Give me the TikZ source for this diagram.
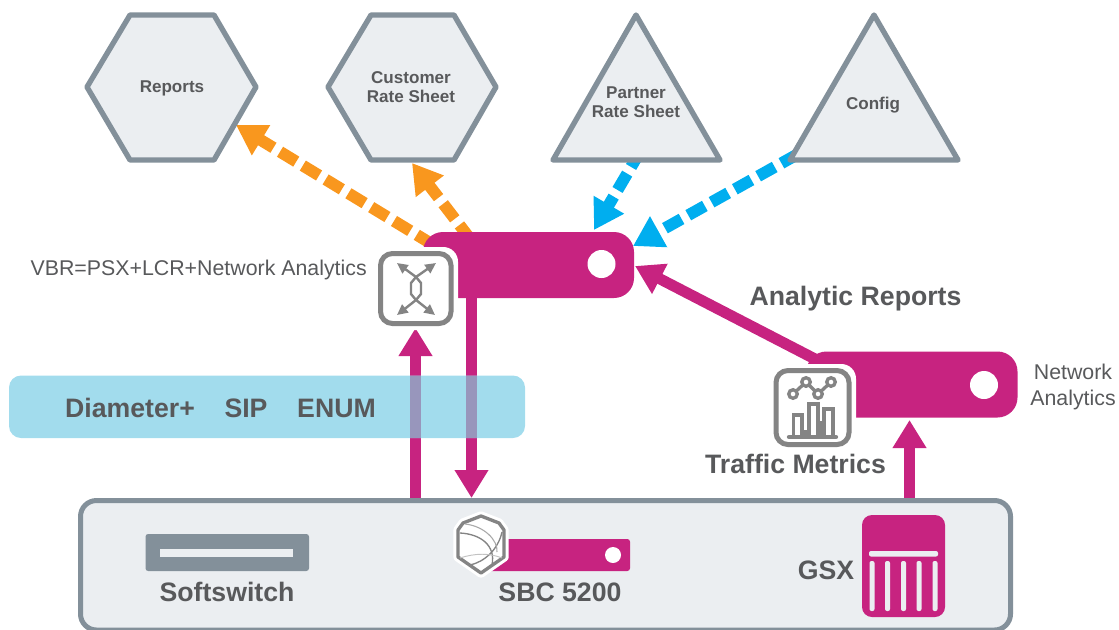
\documentclass[tikz,border=0pt]{standalone}
\usepackage{fontspec}
\setmainfont{Liberation Sans}
\usetikzlibrary{arrows.meta}
\definecolor{mag}{HTML}{C72380}
\definecolor{slate}{HTML}{83909A}
\definecolor{pale}{HTML}{EBEEF1}
\definecolor{txt}{HTML}{58595B}
\definecolor{org}{HTML}{F9971E}
\definecolor{sky}{HTML}{00AEEF}
\definecolor{band}{HTML}{A2DCED}
\definecolor{mixcol}{HTML}{9896BC}
\definecolor{icon}{HTML}{848484}
\tikzset{
  shapeit/.style={draw=slate,fill=pale,line width=4pt,line join=round},
  lab/.style={inner sep=0pt,text=txt,font=\bfseries\fontsize{12.8}{14.2}\selectfont,align=center},
  bigl/.style={inner sep=0pt,anchor=base,text=txt,font=\bfseries\fontsize{20}{22}\selectfont},
  thin lab/.style={inner sep=0pt,text=txt,font=\fontsize{16}{20}\selectfont,align=center},
  heavy/.style={draw=mag,line width=8.25pt,-{Triangle[length=21pt,width=24pt]}},
  dashorg/.style={draw=org,line width=8.8pt,dash pattern=on 14.25pt off 5.75pt,-{Triangle[length=22pt,width=25pt]}},
  dashsky/.style={draw=sky,line width=8.8pt,dash pattern=on 14.25pt off 5.75pt,-{Triangle[length=22pt,width=25pt]}},
  iconbox/.style={draw=icon,fill=white,line width=3.75pt,rounded corners=9pt},
  halo/.style={fill=white,rounded corners=11pt},
  ic/.style={draw=icon,line width=1.8pt,line join=round},
  chartl/.style={draw=icon,line width=2.5pt},
  ictip/.style={ic,{Triangle[length=8pt,width=7.5pt]}-},
  slot/.style={fill=pale,rounded corners=1.5pt},
}
\begin{document}
\begin{tikzpicture}[x=0.75pt,y=-0.75pt]
\useasboundingbox (0,0) rectangle (1119,629);
% connector end points
\coordinate (vbrA) at (433,244.7);
\coordinate (vbrB) at (471,240);
\coordinate (reportsTip) at (236,125);
\coordinate (rateTip) at (412,163);
\coordinate (partnerOut) at (640.7,150.6);
\coordinate (configOut) at (798,154);
\coordinate (vbrTop) at (594,230);
\coordinate (vbrRight) at (633,246);
\coordinate (vbrRightLow) at (635,266);
\coordinate (naOut) at (815,359);
\coordinate (upFrom) at (415.5,500);
\coordinate (upTo) at (415.5,328);
\coordinate (downFrom) at (471.5,296);
\coordinate (downTo) at (471.5,498);
\coordinate (gsxFrom) at (909.5,500);
\coordinate (gsxTo) at (909.5,420);
% connectors
\draw[dashorg] (vbrA) -- (reportsTip);
\draw[dashorg] (vbrB) -- (rateTip);
\draw[dashsky] (partnerOut) -- (vbrTop);
\draw[dashsky] (configOut) -- (vbrRight);
\draw[heavy] (naOut) -- (vbrRightLow);
\draw[heavy] (upFrom) -- (upTo);
\draw[heavy] (downFrom) -- (downTo);
\draw[heavy] (gsxFrom) -- (gsxTo);
% band
\fill[band,rounded corners=9pt] (9,375.5) rectangle (525,438) ;
\fill[mixcol] (410,375.5) rectangle (421,438);
\fill[mixcol] (466,375.5) rectangle (477,438);
\node[bigl] (diam) at (130,417) {Diameter+};
\node[bigl] (sip) at (246,417) {SIP};
\node[bigl] (enum) at (336.5,417) {ENUM};
% top shapes
\draw[shapeit] (87,87) -- (130,15) -- (214,15) -- (256,87) -- (214,160) -- (130,160) -- cycle;
\node[lab] (reports) at (172,88) {Reports};
\draw[shapeit] (328,87) -- (371,15) -- (454,15) -- (496,87) -- (454,160) -- (371,160) -- cycle;
\node[lab] (customer) at (411,87) {Customer\\Rate Sheet};
\draw[shapeit] (636,15) -- (553,160) -- (720,160) -- cycle;
\node[lab] (partner) at (636,102) {Partner\\Rate Sheet};
\draw[shapeit] (874,15) -- (790,160) -- (958,160) -- cycle;
\node[lab] (config) at (873,105) {Config};
% VBR
\node[draw=none,fill=mag,rounded corners=15pt,minimum width=158.25pt,minimum height=49.5pt,inner sep=0pt] (vbr) at (528.5,265) {};
\fill[white] (vbr.center) ++(73,-1) circle (10.5pt);
\fill[halo] (374,247) rectangle (458,330);
\draw[iconbox] (380.5,253.5) rectangle (451,323.5);
\draw[ictip] (397,263) -- (416,277) -- (421,283) -- (421,294) -- (416,300);
\draw[ictip] (436,263) -- (416,277) -- (411,283) -- (411,294) -- (416,300);
\draw[ictip] (397,315) -- (416,300);
\draw[ictip] (435,315) -- (416,300);
\node[thin lab,anchor=base east] (vbrtxt) at (367,275) {VBR=PSX+LCR+Network Analytics};
% Network analytics
\node[draw=none,fill=mag,rounded corners=15pt,minimum width=158.25pt,minimum height=49.5pt,inner sep=0pt] (na) at (912,384.5) {};
\fill[white] (na.center) ++(72,0.5) circle (10.5pt);
\fill[halo] (769,364) rectangle (856,451);
\draw[iconbox] (776,370.5) rectangle (849,444.5);
\draw[chartl] (793,394) -- (806,382) -- (818,394) -- (831,382);
\foreach \p in {(793,394),(806,382),(818,394),(831,382)} \draw[chartl,fill=white] \p circle (3.2pt);
\draw[chartl] (793.5,436) |- (802,415) -- (802,436);
\draw[chartl] (809,436) |- (818,404) -- (818,436);
\draw[chartl] (824,436) |- (833,409) -- (833,436);
\draw[chartl] (805.5,430) -- (805.5,436);
\draw[chartl] (820.5,421) -- (820.5,436);
\draw[chartl,line width=3.2pt,line cap=round] (789,437) -- (836,437);
\node[thin lab] (natxt) at (1073,387) {Network\\Analytics};
\node[bigl] (anrep) at (855.5,305) {Analytic Reports};
\node[bigl] (traffic) at (795.5,473) {Traffic Metrics};
% bottom box
\draw[shapeit,line width=3.75pt,rounded corners=12pt] (80.5,500.5) rectangle (1010.5,630);
\fill[slate,rounded corners=2pt] (145.5,534) rectangle (309,571);
\fill[pale] (160,549) rectangle (293,557);
\node[bigl] (soft) at (227,601) {Softswitch};
% SBC
\node[fill=mag,rounded corners=2pt,minimum width=112.5pt,minimum height=24pt,inner sep=0pt] (sbc) at (555,555) {};
\fill[white] (613,555) circle (6pt);
\filldraw[draw=white,fill=white,line width=7pt,line join=round]
  (481,516) -- (499,523) -- (504,530) -- (504,557) -- (481,573) -- (458,557) -- (458,530) -- (463,523) -- cycle;
\draw[draw=icon,line width=2.5pt,line join=round]
  (481,516) -- (499,523) -- (504,530) -- (504,557) -- (481,573) -- (458,557) -- (458,530) -- (463,523) -- cycle;
\draw[icon,line width=1pt] (460,533) .. controls (480,534) and (496,545) .. (492,565);
\draw[icon,line width=1pt] (502,532) .. controls (498,550) and (484,562) .. (470,565);
\draw[icon!70,line width=.8pt] (465,524) .. controls (484,526) and (498,540) .. (497,552);
\draw[icon!50,line width=.7pt] (460,558) .. controls (475,553) and (490,553) .. (502,558);
\node[bigl] (sbctxt) at (560,601) {SBC 5200};
% GSX
\node[fill=mag,rounded corners=7.5pt,minimum width=62.25pt,minimum height=76.5pt,inner sep=0pt] (gsx) at (903.5,566) {};
\fill[slot] (869,551) rectangle (938,556.5);
\foreach \q in {872,887.5,903.5,919,935} \fill[slot] (\q-2.5,561) rectangle (\q+2.5,611);
\node[bigl] (gsxtxt) at (826,579) {GSX};
\end{tikzpicture}
\end{document}
